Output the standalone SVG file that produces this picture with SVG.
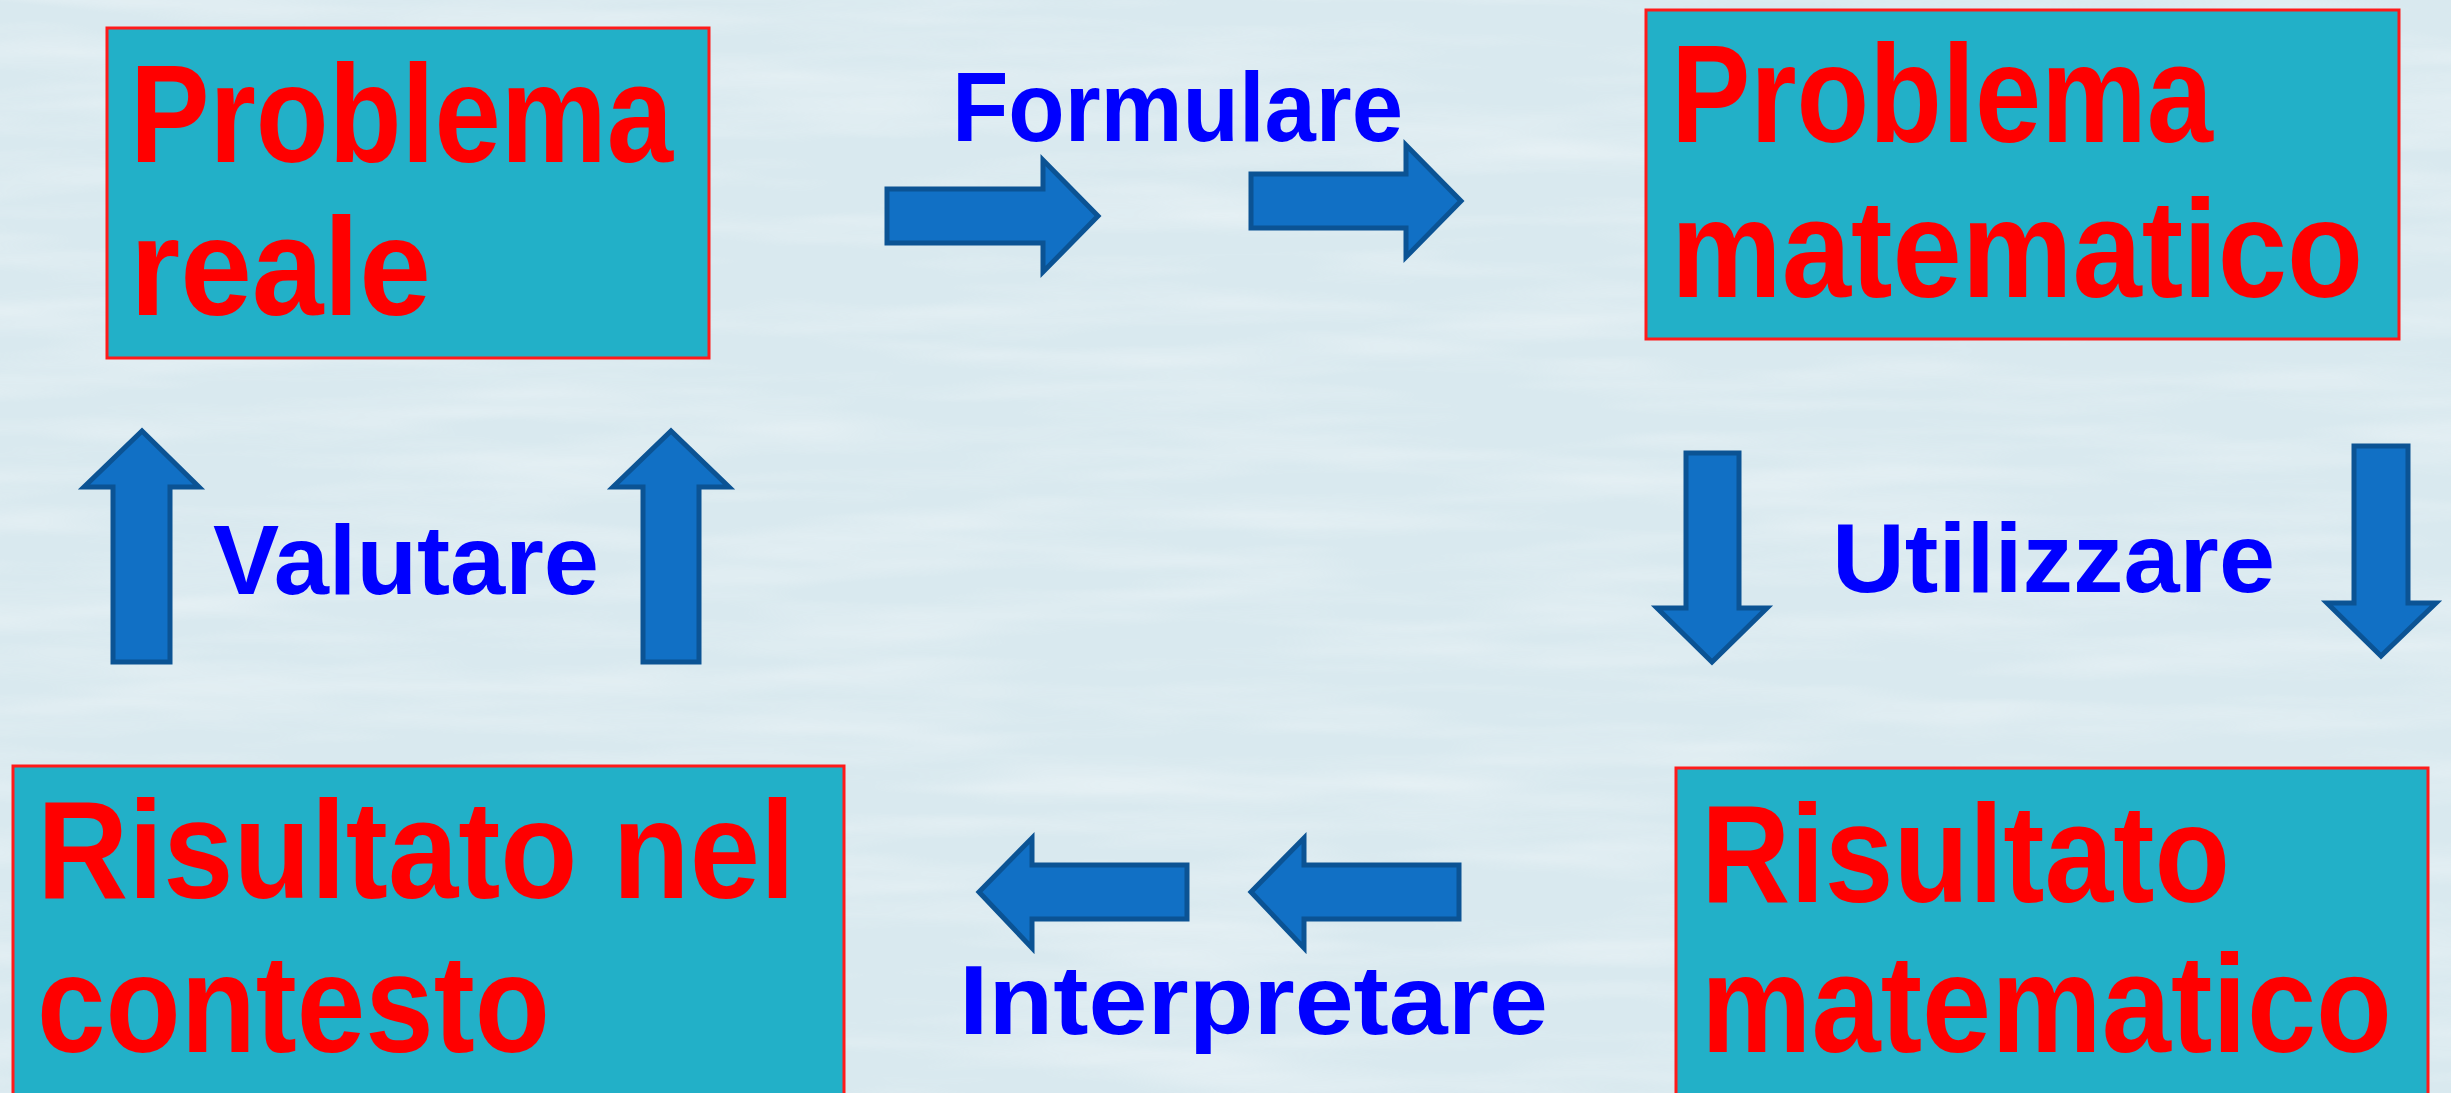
<svg xmlns="http://www.w3.org/2000/svg" width="2451" height="1093" viewBox="0 0 2451 1093">
<style>
.box{fill:#22b0c8;stroke:#ff1a1a;stroke-width:3}
.fill{fill:#22b0c8}
.edge{fill:none;stroke:#ff1a1a;stroke-width:3}
.bt{font-family:"Liberation Sans",Arial,sans-serif;font-weight:bold;font-size:140px;fill:#ff0000}
.lbl{font-family:"Liberation Sans",Arial,sans-serif;font-weight:bold;font-size:98px;fill:#0000ff}
.arr{fill:#1170c5;stroke:#0b5394;stroke-width:5;stroke-linejoin:miter}
</style>
<defs>
<filter id="water" x="0" y="0" width="100%" height="100%">
<feTurbulence type="fractalNoise" baseFrequency="0.003 0.03" numOctaves="3" seed="7"/>
<feColorMatrix type="matrix" values="0 0 0 0 1  0 0 0 0 1  0 0 0 0 1  0 0 0 0.9 -0.35"/>
</filter>
</defs>
<rect width="2451" height="1093" fill="#d9e9ef"/>
<rect width="2451" height="1093" filter="url(#water)" opacity="0.7"/>

<g id="problema-reale">
<rect class="box" x="107" y="28" width="602" height="330"/>
<text class="bt" x="130" y="162" textLength="543" lengthAdjust="spacingAndGlyphs">Problema</text>
<text class="bt" x="130" y="315" textLength="301" lengthAdjust="spacingAndGlyphs">reale</text>
</g>
<g id="problema-matematico">
<rect class="box" x="1646" y="10" width="753" height="329"/>
<text class="bt" x="1671" y="142" textLength="542" lengthAdjust="spacingAndGlyphs">Problema</text>
<text class="bt" x="1671" y="297" textLength="692" lengthAdjust="spacingAndGlyphs">matematico</text>
</g>
<g id="risultato-contesto">
<rect class="fill" x="13" y="766" width="831" height="327"/>
<path class="edge" d="M13,1093 V766 H844 V1093"/>
<text class="bt" x="37" y="898" textLength="758" lengthAdjust="spacingAndGlyphs">Risultato nel</text>
<text class="bt" x="37" y="1052" textLength="513" lengthAdjust="spacingAndGlyphs">contesto</text>
</g>
<g id="risultato-matematico">
<rect class="fill" x="1676" y="768" width="752" height="325"/>
<path class="edge" d="M1676,1093 V768 H2428 V1093"/>
<text class="bt" x="1701" y="902" textLength="529" lengthAdjust="spacingAndGlyphs">Risultato</text>
<text class="bt" transform="translate(1701,1052) scale(1,1.12)" x="0" y="0" style="font-size:125px" textLength="691" lengthAdjust="spacingAndGlyphs">matematico</text>
</g>

<g id="connectors">
<g id="formulare">
<polygon class="arr" points="887,189 1043,189 1043,160 1098,216 1043,272 1043,243 887,243"/>
<polygon class="arr" points="1251,174 1406,174 1406,145 1461,201 1406,257 1406,228 1251,228"/>
<text class="lbl" x="952" y="141" textLength="451" lengthAdjust="spacingAndGlyphs">Formulare</text>
</g>
<g id="utilizzare">
<polygon class="arr" points="1686,453 1739,453 1739,608 1767,608 1712,662 1657,608 1686,608"/>
<polygon class="arr" points="2354,446 2408,446 2408,603 2436,603 2381,656 2327,603 2354,603"/>
<text class="lbl" x="1832" y="592" textLength="443" lengthAdjust="spacingAndGlyphs">Utilizzare</text>
</g>
<g id="interpretare">
<polygon class="arr" points="1187,865 1032,865 1032,838 979,892 1032,948 1032,919 1187,919"/>
<polygon class="arr" points="1459,865 1304,865 1304,838 1251,892 1304,948 1304,919 1459,919"/>
<text class="lbl" x="959" y="1034" textLength="589" lengthAdjust="spacingAndGlyphs">Interpretare</text>
</g>
<g id="valutare">
<polygon class="arr" points="113,662 170,662 170,487 199,487 142,431 84,487 113,487"/>
<polygon class="arr" points="643,662 699,662 699,487 729,487 671,431 613,487 643,487"/>
<text class="lbl" x="213" y="594" textLength="386" lengthAdjust="spacingAndGlyphs">Valutare</text>
</g>
</g>
</svg>
